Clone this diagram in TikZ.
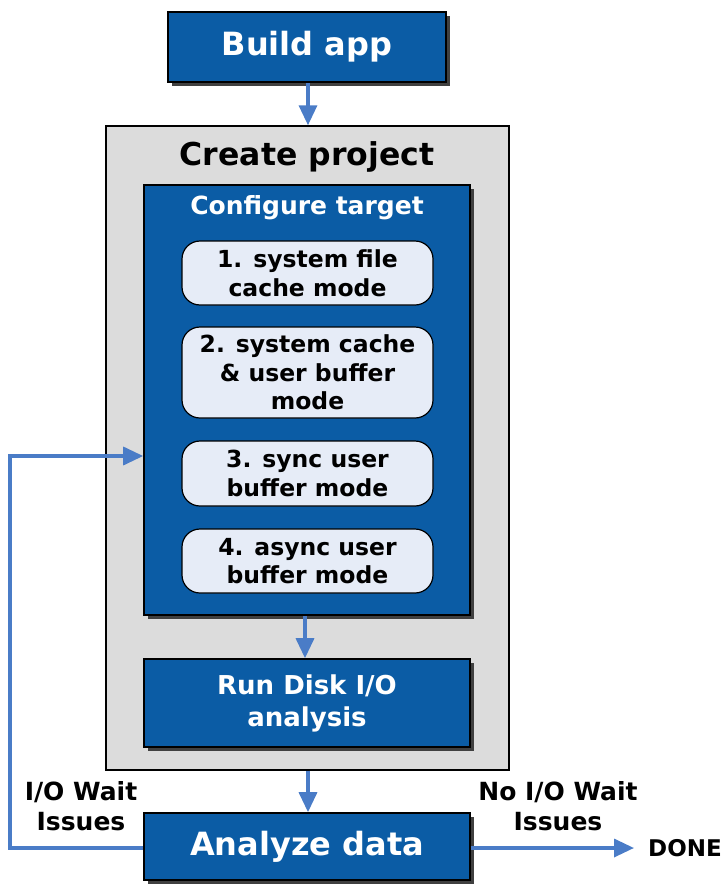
\documentclass[tikz,border=0pt]{standalone}
\usepackage{fontspec}
\setmainfont{DejaVu Sans}
\usetikzlibrary{arrows.meta,shadows,calc}
\definecolor{boxblue}{HTML}{0B5CA5}
\definecolor{arrblue}{HTML}{4A7CC7}
\definecolor{pillfill}{HTML}{E6ECF7}
\definecolor{grayfill}{HTML}{DCDCDC}
\tikzset{
  bluebox/.style={draw=black, line width=1.6pt, fill=boxblue, text=white, font=\bfseries,
    drop shadow={shadow xshift=4pt, shadow yshift=-4pt, fill=black!75, opacity=1},
    align=center, inner sep=0pt},
  pill/.style={draw=black, line width=1.2pt, fill=pillfill, rounded corners=18pt,
    minimum width=251pt, align=center, font=\fontsize{23.5}{28.5}\selectfont\bfseries, inner sep=0pt},
  conn/.style={draw=arrblue, line width=3.4pt, -{Triangle[length=20pt,width=18pt]}},
  lbl/.style={font=\fontsize{25}{30}\selectfont\bfseries, align=center}
}
\begin{document}
\begin{tikzpicture}[x=1pt,y=-1pt]
\useasboundingbox (0,0) rectangle (723,886);
\node[bluebox, minimum width=278pt, minimum height=70pt, font=\fontsize{32}{36}\selectfont\bfseries] (build) at (307,47) {Build app};
\node[draw=black, line width=1.4pt, fill=grayfill, minimum width=403pt, minimum height=644pt, inner sep=0pt] (proj) at (307.5,448) {};
\node[font=\fontsize{31.5}{36}\selectfont\bfseries] (projt) at (307,157) {Create project};
\node[bluebox, minimum width=326pt, minimum height=430pt] (cfg) at (307,400) {};
\node[text=white, font=\fontsize{25}{30}\selectfont\bfseries] (cfgt) at (307,208) {Configure target};
\node[pill, minimum height=64pt] (p1) at (307.5,273) {1. system file\\cache mode};
\node[pill, minimum height=91pt] (p2) at (307.5,372.5) {2. system cache\\\& user buffer\\mode};
\node[pill, minimum height=65pt] (p3) at (307.5,473.5) {3. sync user\\buffer mode};
\node[pill, minimum height=64pt] (p4) at (307.5,561) {4. async user\\buffer mode};
\node[bluebox, minimum width=326pt, minimum height=88pt, font=\fontsize{26}{32}\selectfont\bfseries] (run) at (307,703) {Run Disk I/O\\analysis};
\node[bluebox, minimum width=326pt, minimum height=67pt, font=\fontsize{32}{36}\selectfont\bfseries] (an) at (307,846.5) {Analyze data};
\node[font=\fontsize{23}{26}\selectfont\bfseries, anchor=west, inner sep=0pt] (done) at (648,848) {DONE};
\node[lbl] (l1) at (81,806) {I/O Wait\\Issues};
\node[lbl] (l2) at (558,806) {No I/O Wait\\Issues};
\coordinate (fb) at (10,456);
\draw[conn] (build.south -| 308,0) -- (proj.north -| 308,0);
\draw[conn] ($(cfg.south)+(-2,0)$) -- ($(run.north)+(-2,0)$);
\draw[conn] (proj.south -| 308,0) -- (an.north -| 308,0);
\draw[conn] ($(an.west)+(0,1.5)$) -| (fb) -- (fb -| cfg.west);
\draw[conn] ($(an.east)+(0,1.5)$) -- ($(done.west)+(-14,0)$);
\end{tikzpicture}
\end{document}
